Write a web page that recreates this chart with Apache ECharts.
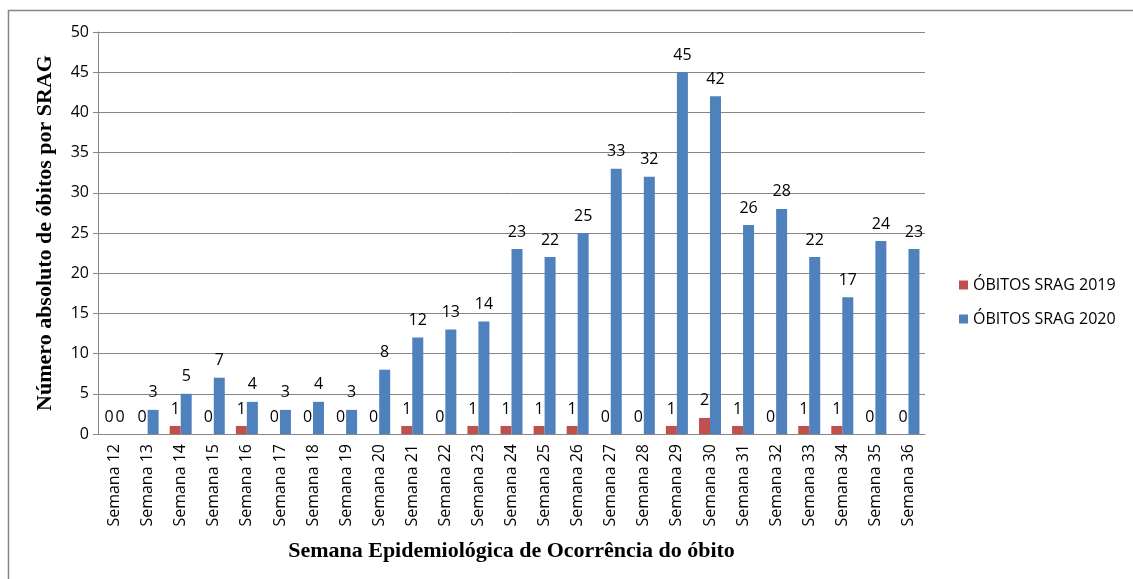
<!DOCTYPE html>
<html>
<head>
<meta charset="utf-8">
<script src="https://cdn.jsdelivr.net/npm/echarts@6/dist/echarts.min.js"></script>
<style>
  html, body { margin: 0; padding: 0; background: #fff; }
  #chart { width: 1133px; height: 579px; }
</style>
</head>
<body>
<div id="chart"></div>
<script>
var semanas = ['Semana 12', 'Semana 13', 'Semana 14', 'Semana 15', 'Semana 16', 'Semana 17', 'Semana 18',
  'Semana 19', 'Semana 20', 'Semana 21', 'Semana 22', 'Semana 23', 'Semana 24', 'Semana 25', 'Semana 26',
  'Semana 27', 'Semana 28', 'Semana 29', 'Semana 30', 'Semana 31', 'Semana 32', 'Semana 33', 'Semana 34',
  'Semana 35', 'Semana 36'];
var obitos2019 = [0, 0, 1, 0, 1, 0, 0, 0, 0, 1, 0, 1, 1, 1, 1, 0, 0, 1, 2, 1, 0, 1, 1, 0, 0];
var obitos2020 = [0, 3, 5, 7, 4, 3, 4, 3, 8, 12, 13, 14, 23, 22, 25, 33, 32, 45, 42, 26, 28, 22, 17, 24, 23];

var sans = '"Open Sans", "DejaVu Sans", sans-serif';
var serif = '"Liberation Serif", "DejaVu Serif", serif';

var myChart = echarts.init(document.getElementById('chart'));
var labelStyle = {
  show: true,
  position: 'top',
  distance: 9,
  color: '#000',
  fontFamily: sans,
  fontSize: 16
};
var option = {
  animation: false,
  graphic: [{
    type: 'rect',
    shape: { x: 8.5, y: 10.5, width: 1300, height: 700 },
    style: { fill: 'none', stroke: '#868686', lineWidth: 1.5 }
  }],
  grid: { left: 98, right: 208, top: 32, bottom: 145 },
  legend: {
    orient: 'vertical',
    left: 954,
    top: 272,
    itemWidth: 9,
    itemHeight: 9,
    itemGap: 18,
    icon: 'rect',
    textStyle: { fontFamily: sans, fontSize: 16, color: '#000' },
    data: ['ÓBITOS SRAG 2019', 'ÓBITOS SRAG 2020']
  },
  xAxis: {
    type: 'category',
    data: semanas,
    name: 'Semana Epidemiológica de Ocorrência do óbito',
    nameLocation: 'middle',
    nameGap: 106,
    nameTextStyle: { fontFamily: serif, fontWeight: 'bold', fontSize: 22, color: '#000' },
    axisLine: { lineStyle: { color: '#868686' } },
    axisTick: { show: false },
    axisLabel: { rotate: 90, interval: 0, margin: 10, fontFamily: sans, fontSize: 16, color: '#000' }
  },
  yAxis: {
    type: 'value',
    min: 0,
    max: 50,
    interval: 5,
    name: 'Número absoluto de óbitos por SRAG',
    nameLocation: 'middle',
    nameGap: 42,
    nameTextStyle: { fontFamily: serif, fontWeight: 'bold', fontSize: 22, color: '#000' },
    axisLine: { show: true, lineStyle: { color: '#868686' } },
    axisTick: { show: true, length: 5, lineStyle: { color: '#868686' } },
    axisLabel: { margin: 9, fontFamily: sans, fontSize: 16, color: '#000' },
    splitLine: { lineStyle: { color: '#868686' } }
  },
  series: [{
    name: 'ÓBITOS SRAG 2019',
    type: 'bar',
    data: obitos2019,
    barWidth: 11,
    barGap: '0%',
    itemStyle: { color: '#C0504D' },
    label: labelStyle
  }, {
    name: 'ÓBITOS SRAG 2020',
    type: 'bar',
    data: obitos2020,
    barWidth: 11,
    itemStyle: { color: '#4F81BD' },
    label: labelStyle
  }]
};
myChart.setOption(option);
</script>
</body>
</html>
